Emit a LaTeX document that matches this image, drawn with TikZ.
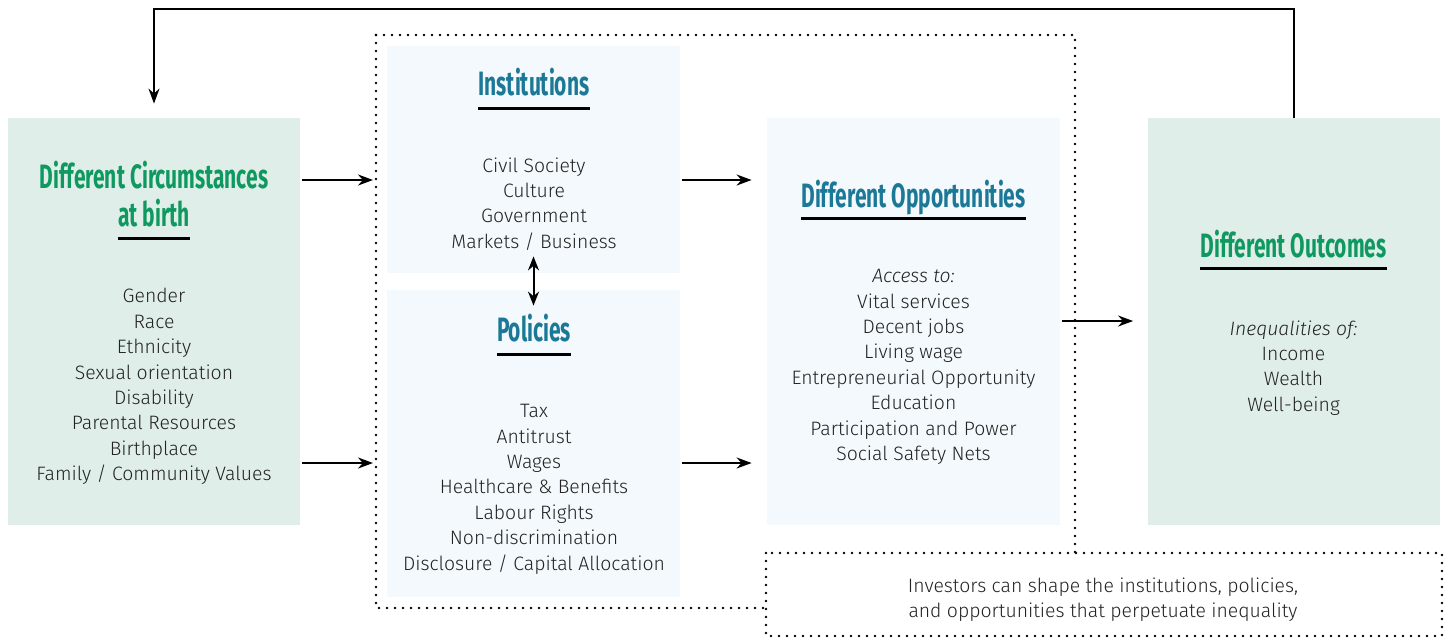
\documentclass[tikz,border=0pt]{standalone}
\usepackage{fontspec}
\setmainfont{Fira Sans}[UprightFont={* Light}, ItalicFont={* Light Italic}]
\newfontfamily\headfont{Fira Sans}[UprightFont={* Bold}, FakeStretch=0.62]
\usetikzlibrary{arrows.meta}
\definecolor{mintfill}{HTML}{E0EEEA}
\definecolor{bluefill}{HTML}{F3F9FC}
\definecolor{headgreen}{HTML}{0F9960}
\definecolor{headblue}{HTML}{1B7896}
\definecolor{ink}{HTML}{222222}
\tikzset{
  panel/.style={inner sep=0pt, draw=none},
  mintpanel/.style={panel, fill=mintfill, minimum width=146pt, minimum height=203.5pt},
  bluepanel/.style={panel, fill=bluefill, minimum width=146.5pt},
  headtext/.style={font=\headfont\fontsize{16.9}{19}\selectfont, anchor=base, inner sep=0pt},
  greenhead/.style={headtext, text=headgreen},
  bluehead/.style={headtext, text=headblue},
  listtext/.style={font=\fontsize{9.7}{12.7}\selectfont, align=center, anchor=north, inner sep=0pt, text=ink},
  uline/.style={line width=1.5pt, draw=black},
  arr/.style={line width=1pt, -{Stealth[length=7.5pt, width=5.5pt]}},
  dbl/.style={line width=1pt, {Stealth[length=7pt, width=5.5pt]}-{Stealth[length=7pt, width=5.5pt]}},
  dotline/.style={line width=1.3pt, line cap=round, dash pattern=on 0pt off 4pt},
}
\begin{document}
\begin{tikzpicture}[x=0.5pt, y=-0.5pt]
\useasboundingbox (0,0) rectangle (1450,639);

% panels
\node[mintpanel] (circ) at (154,321.5) {};
\node[bluepanel, minimum height=113.5pt] (inst) at (533.5,159.5) {};
\node[bluepanel, minimum height=153.5pt] (pol) at (533.5,443.5) {};
\node[bluepanel, minimum height=203.5pt] (opp) at (913.5,321.5) {};
\node[mintpanel] (out) at (1293.5,321.5) {};

% helper rows for the horizontal connectors
\coordinate (rowA) at (0,180);
\coordinate (rowB) at (0,463);
\coordinate (rowC) at (0,321);
\coordinate (topY) at (0,9);

% dotted frame around institutions, policies and opportunities
\coordinate (fNW) at (376,35);
\coordinate (fNE) at (1075,35);
\coordinate (fSW) at (376,608);
\draw[dotline] (fNW) -- (fNE) -- (1075,553);
\draw[dotline] (fNW) -- (fSW) -- (766,608);
\draw[dotline] (766,553) rectangle (1442,636);

% headings
\node[greenhead] (circT1) at (154,188) {Different Circumstances};
\node[greenhead] (circT2) at (154,226) {at birth};
\draw[uline] (circT2.west |- 0,238) -- (circT2.east |- 0,238);

\node[bluehead] (instT) at (534,95) {Institutions};
\draw[uline] (instT.west |- 0,108) -- (instT.east |- 0,108);

\node[bluehead] (polT) at (534,341) {Policies};
\draw[uline] (polT.west |- 0,354) -- (polT.east |- 0,354);

\node[bluehead] (oppT) at (913.5,207) {Different Opportunities};
\draw[uline] (oppT.west |- 0,218) -- (oppT.east |- 0,218);

\node[greenhead] (outT) at (1293.5,257) {Different Outcomes};
\draw[uline] (outT.west |- 0,268) -- (outT.east |- 0,268);

% lists
\node[listtext] (circL) at (154,288) {Gender\\Race\\Ethnicity\\Sexual orientation\\Disability\\Parental Resources\\Birthplace\\Family / Community Values};
\node[listtext] (instL) at (534,157) {Civil Society\\Culture\\Government\\Markets / Business};
\node[listtext] (polL) at (534,404) {Tax\\Antitrust\\Wages\\Healthcare \& Benefits\\Labour Rights\\Non-discrimination\\Disclosure / Capital Allocation};
\node[listtext] (oppL) at (913.5,269) {\textit{Access to:}\\Vital services\\Decent jobs\\Living wage\\Entrepreneurial Opportunity\\Education\\Participation and Power\\Social Safety Nets};
\node[listtext] (outL) at (1293.5,320) {\textit{Inequalities of:}\\Income\\Wealth\\Well-being};
\node[listtext] (invest) at (1103,577) {Investors can shape the institutions, policies,\\and opportunities that perpetuate inequality};

% connectors
\draw[arr, shorten <=1pt, shorten >=1.5pt] (circ.east |- rowA) -- (fNW |- rowA);
\draw[arr, shorten <=1pt, shorten >=1.5pt] (circ.east |- rowB) -- (fNW |- rowB);
\draw[arr, shorten <=1pt, shorten >=7.5pt] (inst.east |- rowA) -- (opp.west |- rowA);
\draw[arr, shorten <=1pt, shorten >=7.5pt] (pol.east |- rowB) -- (opp.west |- rowB);
\draw[arr, shorten <=1pt, shorten >=7pt] (opp.east |- rowC) -- (out.west |- rowC);
\draw[dbl] ([yshift=8.5pt]inst.south) -- ([yshift=-8pt]pol.north);
\draw[arr, shorten >=7pt] (out.north) -- (out.north |- topY) -- (circ.north |- topY) -- (circ.north);
\end{tikzpicture}
\end{document}
